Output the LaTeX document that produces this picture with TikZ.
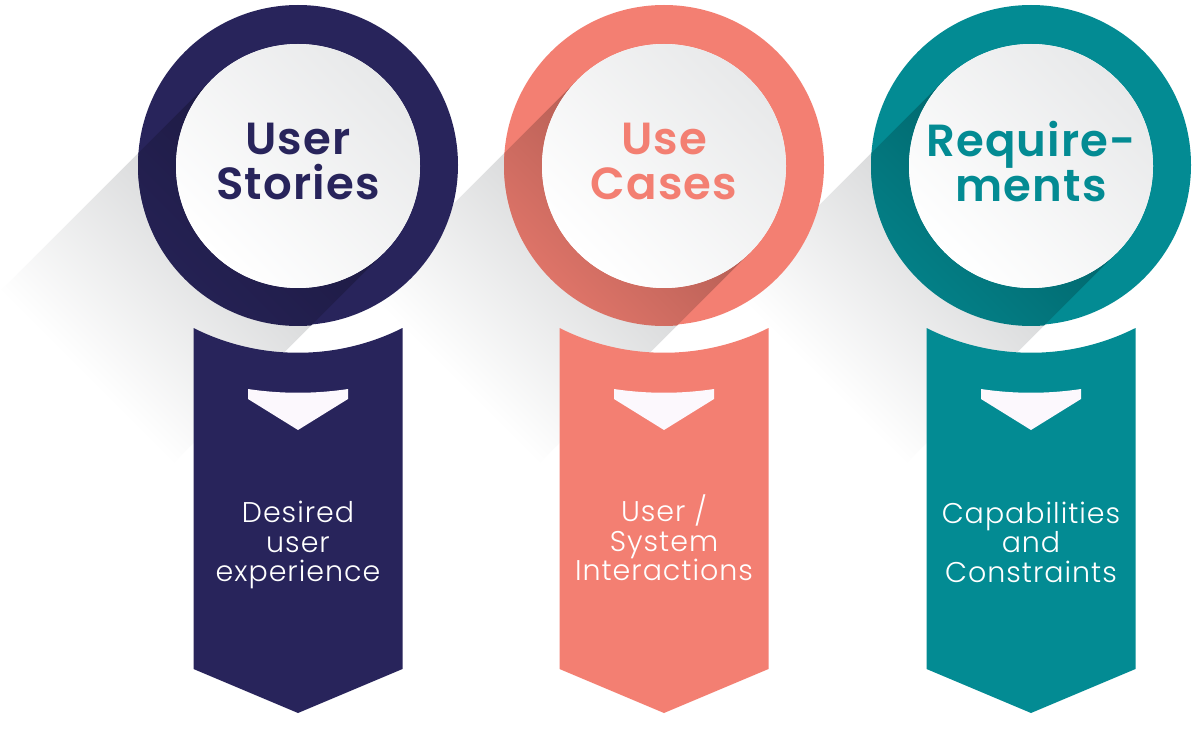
\documentclass[tikz,border=0pt]{standalone}
\usepackage{fontspec}
\newfontfamily\titlefont{Poppins SemiBold}[LetterSpace=2.5]
\newfontfamily\bodyfont{Poppins Light}[LetterSpace=3.5]
\definecolor{navy}{HTML}{28245B}
\definecolor{salmon}{HTML}{F37F72}
\definecolor{teal}{HTML}{038B93}
\definecolor{chevronwhite}{HTML}{FCF8FD}
\definecolor{castgray}{HTML}{DADBDC}
\definecolor{rimgray}{HTML}{E8E9EA}

\tikzset{
  ringdisk/.style={circle, inner sep=0pt, minimum size=320pt, fill=#1},
  innerdisk/.style={circle, inner sep=0pt, minimum size=244pt, fill=white},
  titletext/.style={text=#1, align=center, font=\titlefont\fontsize{45}{45}\selectfont},
  bodytext/.style={text=white, align=center, font=\bodyfont\fontsize{28.5}{29.5}\selectfont},
  bannershape/.style={fill=#1},
  chevronshape/.style={fill=chevronwhite},
}

% long cast shadow of one medallion, running down-left at 45 degrees
\newcommand\castshadow[1]{%
  \begin{scope}[transform canvas={shift={(#1,166)}, rotate=225}]
    \fill[castgray] (0,-122) rectangle (100,122);
    \shade[left color=castgray, right color=white] (100,-122) rectangle (300,122);
  \end{scope}}

% one medallion with its ribbon: #1 id, #2 centre x, #3 colour, #4 title, #5 body, #6 body y
\newcommand\medallion[6]{%
  \node[ringdisk=#3] (ring-#1) at (#2,165) {};
  \begin{scope}[transform canvas={shift={(#2,166)}, rotate=225}]
    \clip (0,0) circle (160);
    \shade[left color=#3!74!black, right color=#3!92!black] (0,-122) rectangle (165,122);
  \end{scope}
  \node[innerdisk] (disk-#1) at (#2,166) {};
  \begin{scope}[transform canvas={shift={(#2,166)}, rotate=225}]
    \clip (0,0) circle (122);
    \shade[left color=rimgray, middle color=white, right color=white] (-122,-122) rectangle (122,122);
  \end{scope}
  \node[titletext=#3] (title-#1) at (#2,161.5) {#4};
  \path[bannershape=#3] (#2-104.5,328) .. controls (#2-39,361) and (#2+39,361) .. (#2+104.5,328)
        -- (#2+104.5,669) -- (#2,713) -- (#2-104.5,669) -- cycle;
  \coordinate (banner-#1) at (#2,520);
  \path[chevronshape] (#2-50,389) .. controls (#2-17,394) and (#2+17,394) .. (#2+50,389)
        -- (#2+50,399) -- (#2,430) -- (#2-50,399) -- cycle;
  \node[bodytext] (body-#1) at (#2,#6) {#5};
}

\begin{document}
\begin{tikzpicture}[x=1pt, y=-1pt]
  \useasboundingbox (0,0) rectangle (1200,730);
  \fill[white] (0,0) rectangle (1200,730);
  \clip (0,0) rectangle (1200,730);

  \castshadow{298}
  \castshadow{664}
  \castshadow{1031}

  \medallion{stories}{298}{navy}{User\\Stories}{Desired\\user\\experience}{545}
  \medallion{cases}{664}{salmon}{Use\\Cases}{User /\\System\\Interactions}{538}
  \medallion{reqs}{1031}{teal}{Require-\\ments}{Capabilities\\and\\Constraints}{542}
\end{tikzpicture}
\end{document}
